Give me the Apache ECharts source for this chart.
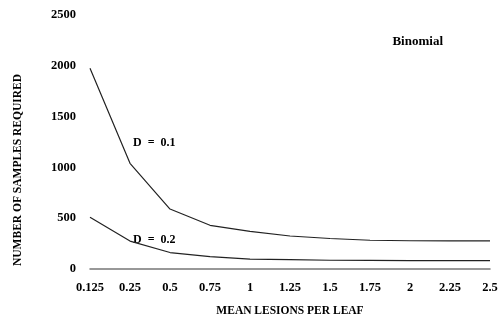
<!DOCTYPE html>
<html><head><meta charset="utf-8">
<script src="https://cdn.jsdelivr.net/npm/echarts@6/dist/echarts.min.js"></script>
<style>html,body{margin:0;padding:0;background:#fff}#c{width:502px;height:322px}</style>
</head><body><div id="c"></div>
<script>
var categories = ['0.125','0.25','0.5','0.75','1','1.25','1.5','1.75','2','2.25','2.5'];
var seriesD01 = [1975, 1040, 590, 430, 370, 325, 300, 283, 278, 277, 277];
var seriesD02 = [510, 275, 162, 121, 98, 92, 86, 84, 83, 83, 83];
var yTicks = [0, 500, 1000, 1500, 2000, 2500];

var font = '"Liberation Serif", "DejaVu Serif", serif';
var chart = echarts.init(document.getElementById('c'));
chart.setOption({
  animation: false,
  backgroundColor: '#fff',
  grid: {left: 90, right: 12, top: 15, bottom: 45, containLabel: false},
  title: {text: 'Binomial', right: 54, top: 30, textStyle: {fontFamily: font, fontWeight: 'bold', fontSize: 13, color: '#000'}},
  xAxis: {
    type: 'category', data: categories, boundaryGap: false,
    name: 'MEAN LESIONS PER LEAF', nameLocation: 'middle', nameGap: 36,
    nameTextStyle: {fontFamily: font, fontWeight: 'bold', fontSize: 11.5, color: '#000'},
    axisLine: {lineStyle: {color: '#777', width: 1.5}},
    axisTick: {show: false},
    axisLabel: {fontFamily: font, fontWeight: 'bold', fontSize: 12.5, color: '#000', margin: 12},
    splitLine: {show: false}
  },
  yAxis: {
    type: 'value', min: 0, max: 2500, interval: 500,
    axisLine: {show: false}, axisTick: {show: false},
    axisLabel: {fontFamily: font, fontWeight: 'bold', fontSize: 12.5, color: '#000', margin: 14,
      formatter: function (v) { return String(v); }},
    splitLine: {show: false}
  },
  series: [
    {type: 'line', data: seriesD01, symbol: 'none', lineStyle: {color: '#222', width: 1.2}},
    {type: 'line', data: seriesD02, symbol: 'none', lineStyle: {color: '#222', width: 1.2}}
  ],
  graphic: [
    {type: 'text', x: 18, y: 170, rotation: Math.PI / 2,
      style: {text: 'NUMBER OF SAMPLES REQUIRED', font: 'bold 11.5px ' + font, fill: '#000', align: 'center', verticalAlign: 'middle'}},
    {type: 'text', left: 133, top: 137, style: {text: 'D  =  0.1', font: 'bold 12px ' + font, fill: '#000'}},
    {type: 'text', left: 133, top: 234, style: {text: 'D  =  0.2', font: 'bold 12px ' + font, fill: '#000'}}
  ]
});
</script></body></html>
